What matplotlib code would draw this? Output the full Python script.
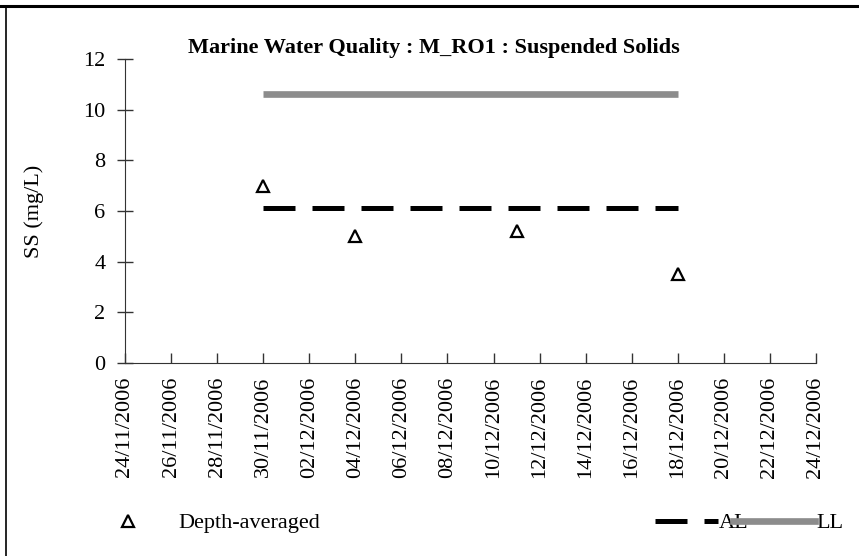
import numpy as np
import matplotlib.pyplot as plt
import matplotlib.dates as mdates
from matplotlib.lines import Line2D
from datetime import datetime

plt.rcParams['font.family'] = ['Liberation Serif', 'DejaVu Serif']

# sample dates and depth-averaged suspended solids (mg/L)
dates = ["30/11/2006", "04/12/2006", "11/12/2006", "18/12/2006"]
ss = [7.0, 5.0, 5.2, 3.5]

# action / limit level over the monitoring period
limit_dates = ["30/11/2006", "18/12/2006"]
al = [6.1, 6.1]
ll = [10.6, 10.6]

x_start, x_end = "24/11/2006", "24/12/2006"

FS = 16


def d(s):
    return datetime.strptime(s, "%d/%m/%Y")


fig = plt.figure(figsize=(8.59, 5.56), dpi=100)
ax = fig.add_axes([125 / 859, 1 - 363 / 556, (816 - 125) / 859, (363 - 59) / 556])

ld = [d(s) for s in limit_dates]
ax.plot(ld, ll, color="#8c8c8c", lw=4.8, solid_capstyle="butt")
ax.plot(ld, al, color="black", lw=3.6, linestyle=(0, (6.4, 3.4)), dash_capstyle="butt")
ax.plot([d(s) for s in dates], ss, linestyle="none", marker="^", markersize=8,
        markerfacecolor="white", markeredgecolor="black", markeredgewidth=1.6)

ax.set_ylim(0, 12)
ax.set_yticks(np.arange(0, 13, 2))
ax.set_xlim(d(x_start), d(x_end))
ticks = [mdates.date2num(d(x_start)) + 2 * i for i in range(16)]
ax.set_xticks(ticks)
ax.set_xticklabels([mdates.num2date(t).strftime("%d/%m/%Y") for t in ticks], rotation=90)

for s in ["top", "right"]:
    ax.spines[s].set_visible(False)
ax.spines["left"].set_color("#333333")
ax.spines["bottom"].set_color("#333333")
ax.tick_params(axis="y", direction="inout", length=12, width=1, labelsize=FS, pad=8, color="#333333")
ax.tick_params(axis="x", direction="in", length=7, width=1, labelsize=FS, pad=10, color="#333333")
ax.set_ylabel("SS (mg/L)", fontsize=FS, labelpad=28)

fig.text(434 / 859, 1 - 48 / 556, "Marine Water Quality : M_RO1 : Suspended Solids",
         ha="center", va="center", fontsize=FS, fontweight="bold")

# legend entries
ly = 1 - 523 / 556
fig.legend(handles=[Line2D([], [], linestyle="none", marker="^", markersize=8,
                           markerfacecolor="white", markeredgecolor="black", markeredgewidth=1.6)],
           labels=["Depth-averaged"], loc="center left", bbox_to_anchor=(106 / 859, ly),
           frameon=False, fontsize=FS, handlelength=2, handletextpad=1.27, borderaxespad=0,
           borderpad=0)
fig.legend(handles=[Line2D([], [], color="black", lw=3.6, linestyle=(0, (6.4, 3.4)))],
           labels=["AL"], loc="center left", bbox_to_anchor=(655 / 859, ly),
           frameon=False, fontsize=FS, handlelength=2.84, handletextpad=0.05, borderaxespad=0,
           borderpad=0)
fig.legend(handles=[Line2D([], [], color="#8c8c8c", lw=4.8)],
           labels=["LL"], loc="center left", bbox_to_anchor=(733 / 859, ly),
           frameon=False, fontsize=FS, handlelength=3.69, handletextpad=0.05, borderaxespad=0,
           borderpad=0)

# outer frame
fig.add_artist(Line2D([0, 1], [1 - 6 / 556, 1 - 6 / 556], color="black", lw=2.2, transform=fig.transFigure))
fig.add_artist(Line2D([6 / 859, 6 / 859], [0, 1 - 6 / 556], color="black", lw=1.2, transform=fig.transFigure))

fig.savefig("out.png", dpi=100)
